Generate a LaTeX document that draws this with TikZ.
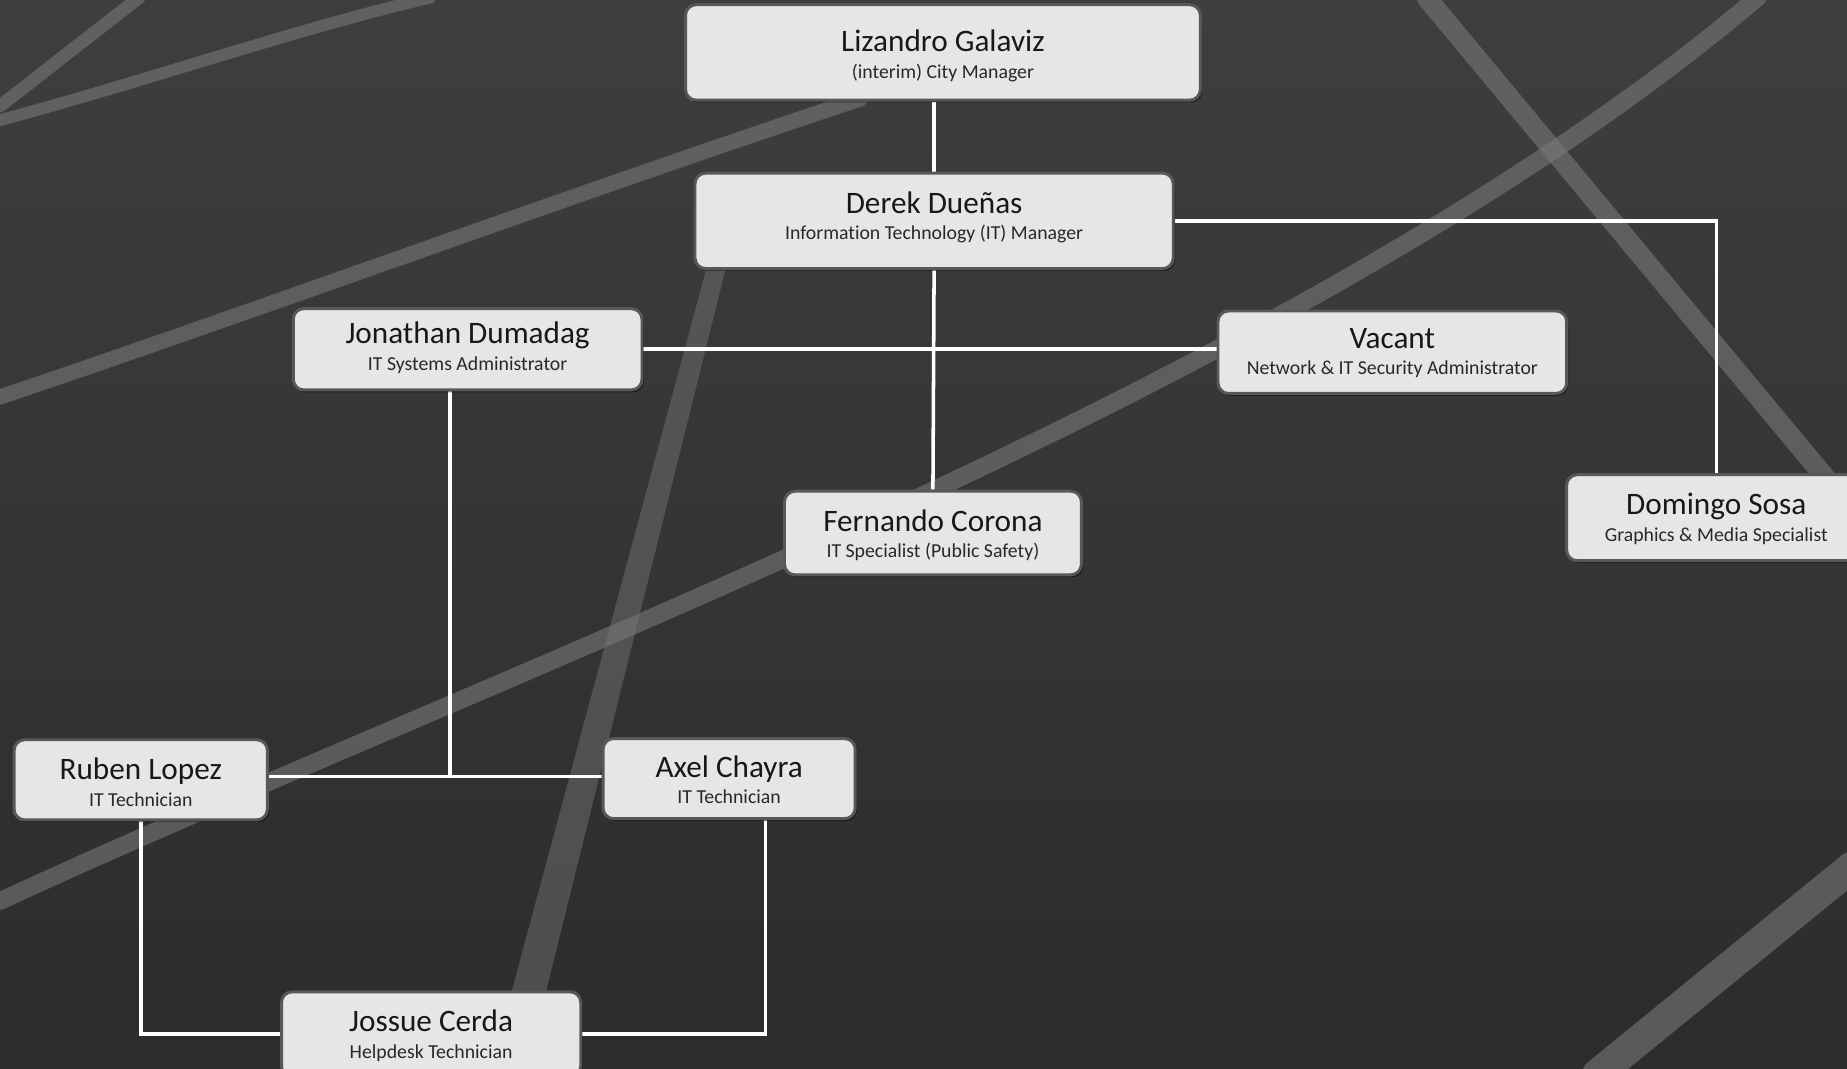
\documentclass[tikz,border=0pt]{standalone}
\usepackage{fontspec}
\setmainfont{Carlito}[Ligatures=NoCommon]
\usetikzlibrary{shadows}
\pgfdeclarelayer{bgart}
\pgfdeclarelayer{conns}
\pgfsetlayers{bgart,conns,main}
\definecolor{boxfill}{RGB}{230,230,230}
\definecolor{boxline}{RGB}{88,88,88}
\definecolor{namecol}{RGB}{24,24,24}
\definecolor{subcol}{RGB}{40,40,40}
\definecolor{asphA}{RGB}{62,62,62}
\definecolor{asphB}{RGB}{44,44,44}
\definecolor{trackcol}{RGB}{120,120,120}
\newcommand{\OrgBox}[8]{%
  \node[orgbox, minimum width=#4pt, minimum height=#5pt] (#1) at (#2,#3+#5/2) {};
  \node[nametext] (#1-n) at (#2,#3+#8) {#6};
  \node[subtext] (#1-s) at (#2,#3+#8+22.5) {#7};
}
\begin{document}
\begin{tikzpicture}[x=1pt,y=-1pt,
  orgbox/.style={draw=boxline, line width=2.5pt, fill=boxfill, rounded corners=9pt, inner sep=0pt,
    drop shadow={shadow xshift=1.5pt, shadow yshift=-2pt, opacity=0.45, fill=black}},
  nametext/.style={anchor=base, inner sep=0pt, text=namecol, font=\fontsize{26.5}{30}\selectfont},
  subtext/.style={anchor=base, inner sep=0pt, text=subcol, font=\fontsize{16.8}{20}\selectfont},
  conn/.style={draw=white, line width=3pt},
  track/.style={draw=trackcol, opacity=0.6, line cap=round}]
\useasboundingbox (0,0) rectangle (1568,907);
\begin{pgfonlayer}{bgart}
  \shade[top color=asphA, bottom color=asphB] (0,0) rectangle (1568,907);
  \draw[track, line width=10pt] (0,102) .. controls (120,70) and (250,25) .. (365,-2);
  \draw[track, line width=11pt] (0,90) -- (118,-2);
  \draw[track, line width=13pt] (0,337) .. controls (200,270) and (500,160) .. (730,84);
  \draw[track, line width=15pt] (0,765) .. controls (420,570) and (1100,330) .. (1492,-2);
  \fill[trackcol, opacity=0.45] (604,212) -- (620,212) -- (454,880) -- (424,880) -- cycle;
  \draw[track, line width=17pt] (1211,-2) -- (1570,430);
  \draw[track, line width=26pt] (1356,912) -- (1572,736);
\end{pgfonlayer}
\OrgBox{liz}{800.5}{4}{437}{81}{Lizandro Galaviz}{(interim) City Manager}{40}
\OrgBox{derek}{793}{147}{406}{81}{Derek Dueñas}{Information Technology (IT) Manager}{34}
\OrgBox{jon}{397}{262}{296}{69}{Jonathan Dumadag}{IT Systems Administrator}{30}
\OrgBox{vac}{1182}{264}{296}{70}{Vacant}{Network \& IT Security Administrator}{31.5}
\OrgBox{fer}{792}{417}{252}{71}{Fernando Corona}{IT Specialist (Public Safety)}{34}
\OrgBox{dom}{1457}{403}{254}{73}{Domingo Sosa}{Graphics \& Media Specialist}{34}
\OrgBox{rub}{119.5}{628}{215}{68}{Ruben Lopez}{IT Technician}{34}
\OrgBox{axel}{619}{627}{214}{68}{Axel Chayra}{IT Technician}{33}
\OrgBox{jos}{366}{842}{254}{72}{Jossue Cerda}{Helpdesk Technician}{34}
\coordinate (jj) at (382,659);
\coordinate (ja) at (650,876);
\begin{pgfonlayer}{conns}
  \draw[conn] (liz.south -| derek.north) -- (derek.north);
  \draw[conn] (derek.south) -- (fer.north);
  \draw[conn] (jon.east) -- (jon.east -| vac.west);
  \draw[conn] (derek.east) -| (dom.north);
  \draw[conn] (jon.south -| jj) -- (jj);
  \draw[conn] (rub.east |- jj) -- (axel.west |- jj);
  \draw[conn] (rub.south) |- (jos.west);
  \draw[conn] (axel.south -| ja) |- (jos.east);
\end{pgfonlayer}
\end{tikzpicture}
\end{document}
